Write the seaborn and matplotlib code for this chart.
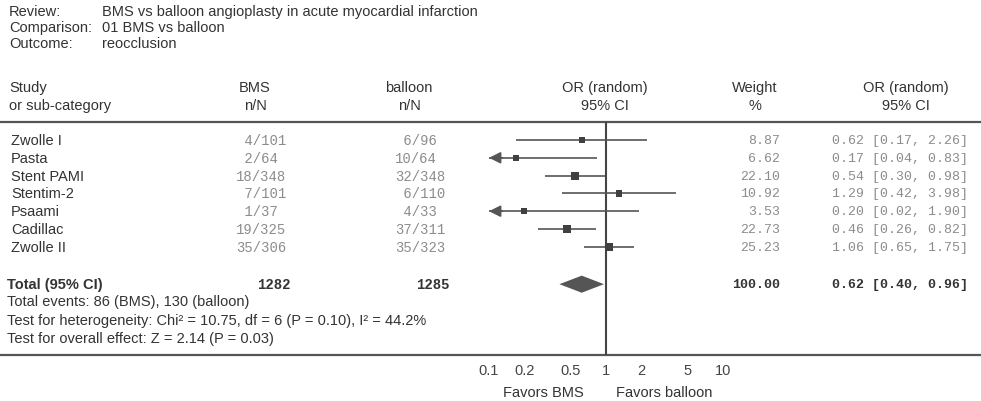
import numpy as np
import pandas as pd
import seaborn as sns
import matplotlib.pyplot as plt

# ---- data ----
studies = ['Zwolle I', 'Pasta', 'Stent PAMI', 'Stentim-2', 'Psaami', 'Cadillac', 'Zwolle II']
bms_n = [4, 2, 18, 7, 1, 19, 35]
bms_N = [101, 64, 348, 101, 37, 325, 306]
bal_n = [6, 10, 32, 6, 4, 37, 35]
bal_N = [96, 64, 348, 110, 33, 311, 323]
weight = [8.87, 6.62, 22.10, 10.92, 3.53, 22.73, 25.23]
or_est = [0.62, 0.17, 0.54, 1.29, 0.20, 0.46, 1.06]
ci_lo = [0.17, 0.04, 0.30, 0.42, 0.02, 0.26, 0.65]
ci_hi = [2.26, 0.83, 0.98, 3.98, 1.90, 0.82, 1.75]

tot_bms, tot_bal = 1282, 1285
tot_weight = 100.00
tot_or, tot_lo, tot_hi = 0.62, 0.40, 0.96

ticks = [0.1, 0.2, 0.5, 1, 2, 5, 10]
tick_labels = ['0.1', '0.2', '0.5', '1', '2', '5', '10']

sns.set_theme(style='white')
plt.rcParams['font.family'] = ['Liberation Sans', 'DejaVu Sans']

df = pd.DataFrame({'study': studies, 'weight': weight, 'OR': or_est,
                   'lo': ci_lo, 'hi': ci_hi})
df['row'] = np.arange(len(df))

TXT = '#333333'
MONO_C = '#8c8c8c'
LINE_C = '#555555'
SANS = 10.5
MONO = ['Liberation Mono', 'DejaVu Sans Mono']

Y0, DY = 141, 17.8
def ypx(r):
    return Y0 + DY * r

TOTAL_ROW = 8.1
AX_TOP, AX_BOT = -1.02, 12.08
X_LO, X_HI = 0.1, 10

fig = plt.figure(figsize=(9.81, 4.02), dpi=100)
bg = fig.add_axes([0, 0, 1, 1])
bg.set_xlim(0, 981)
bg.set_ylim(402, 0)
bg.axis('off')

ax = fig.add_axes([489 / 981, 1 - ypx(AX_BOT) / 402,
                   (723 - 489) / 981, (ypx(AX_BOT) - ypx(AX_TOP)) / 402])
ax.set_facecolor('none')

# confidence intervals, arrows for truncated ones
for _, r in df.iterrows():
    left = max(r['lo'], X_LO)
    ax.hlines(r['row'], left, min(r['hi'], X_HI), color='#555555', lw=1.2, zorder=2)
    if r['lo'] < X_LO:
        ax.annotate('', xy=(X_LO, r['row']), xytext=(X_LO * 1.3, r['row']),
                    arrowprops=dict(arrowstyle='-|>,head_length=0.7,head_width=0.35',
                                    color='#555555', lw=1.2,
                                    mutation_scale=10, shrinkA=0, shrinkB=0),
                    annotation_clip=False)

sns.scatterplot(data=df, x='OR', y='row', size='weight', sizes=(16, 36),
                marker='s', color='#404040', linewidth=0, legend=False,
                ax=ax, zorder=3)

# pooled diamond
ax.fill([tot_lo, tot_or, tot_hi, tot_or],
        [TOTAL_ROW, TOTAL_ROW - 0.48, TOTAL_ROW, TOTAL_ROW + 0.48],
        color='#555555', lw=0, zorder=3)

ax.axvline(1, color='#444444', lw=1.5, zorder=1)

ax.set_xscale('log')
ax.set_xlim(X_LO, X_HI)
ax.set_ylim(AX_BOT, AX_TOP)
ax.set_xticks(ticks)
ax.set_xticklabels(tick_labels)
ax.minorticks_off()
ax.set_yticks([])
ax.set_xlabel('')
ax.set_ylabel('')
ax.tick_params(axis='x', direction='inout', length=5, width=0.8, color='#bbbbbb',
               labelsize=SANS, labelcolor='#444444', pad=3)
for s in ax.spines.values():
    s.set_visible(False)
ax.grid(False)

# separators
bg.axhline(ypx(AX_TOP), color=LINE_C, lw=1.6)
bg.axhline(ypx(AX_BOT), color=LINE_C, lw=1.6)

# header block
for y, lab, val in [(12, 'Review:', 'BMS vs balloon angioplasty in acute myocardial infarction'),
                    (28, 'Comparison:', '01 BMS vs balloon'),
                    (44, 'Outcome:', 'reocclusion')]:
    bg.text(9, y, lab, fontsize=SANS, color=TXT, va='center')
    bg.text(102, y, val, fontsize=SANS, color=TXT, va='center')

col_heads = [(9, 'left', 'Study', 'or sub-category'),
             (255, 'center', 'BMS', 'n/N'),
             (409, 'center', 'balloon', 'n/N'),
             (605, 'center', 'OR (random)', '95% CI'),
             (755, 'center', 'Weight', '%'),
             (906, 'center', 'OR (random)', '95% CI')]
for x, ha, l1, l2 in col_heads:
    bg.text(x, 88, l1, fontsize=SANS, color=TXT, ha=ha, va='center')
    bg.text(x, 106, l2, fontsize=SANS, color=TXT, ha=ha, va='center')

# study rows
for i in range(len(studies)):
    y = ypx(i)
    bg.text(11, y, studies[i], fontsize=SANS, color=TXT, va='center')
    bg.text(236, y, f'{bms_n[i]:>2}/{bms_N[i]}', fontsize=10, family=MONO,
            color=MONO_C, va='center')
    bg.text(395, y, f'{bal_n[i]:>2}/{bal_N[i]}', fontsize=10, family=MONO,
            color=MONO_C, va='center')
    bg.text(780, y, f'{weight[i]:.2f}', fontsize=9.5, family=MONO,
            color=MONO_C, ha='right', va='center')
    bg.text(968, y, f'{or_est[i]:.2f} [{ci_lo[i]:.2f}, {ci_hi[i]:.2f}]',
            fontsize=9.5, family=MONO, color=MONO_C, ha='right', va='center')

# total row
yt = ypx(TOTAL_ROW)
bg.text(7, yt, 'Total (95% CI)', fontsize=SANS, color=TXT, weight='bold', va='center')
bg.text(274, yt, f'{tot_bms}', fontsize=10, family=MONO, weight='bold',
        color=TXT, ha='center', va='center')
bg.text(433, yt, f'{tot_bal}', fontsize=10, family=MONO, weight='bold',
        color=TXT, ha='center', va='center')
bg.text(780, yt, f'{tot_weight:.2f}', fontsize=9.5, family=MONO, weight='bold',
        color=TXT, ha='right', va='center')
bg.text(968, yt, f'{tot_or:.2f} [{tot_lo:.2f}, {tot_hi:.2f}]', fontsize=9.5,
        family=MONO, weight='bold', color=TXT, ha='right', va='center')

footer = ['Total events: 86 (BMS), 130 (balloon)',
          'Test for heterogeneity: Chi² = 10.75, df = 6 (P = 0.10), I² = 44.2%',
          'Test for overall effect: Z = 2.14 (P = 0.03)']
for y, t in zip([302, 321, 339], footer):
    bg.text(7, y, t, fontsize=SANS, color=TXT, va='center')

bg.text(543, 393, 'Favors BMS', fontsize=SANS, color=TXT, ha='center', va='center')
bg.text(664, 393, 'Favors balloon', fontsize=SANS, color=TXT, ha='center', va='center')

fig.savefig('out.png', dpi=100)
